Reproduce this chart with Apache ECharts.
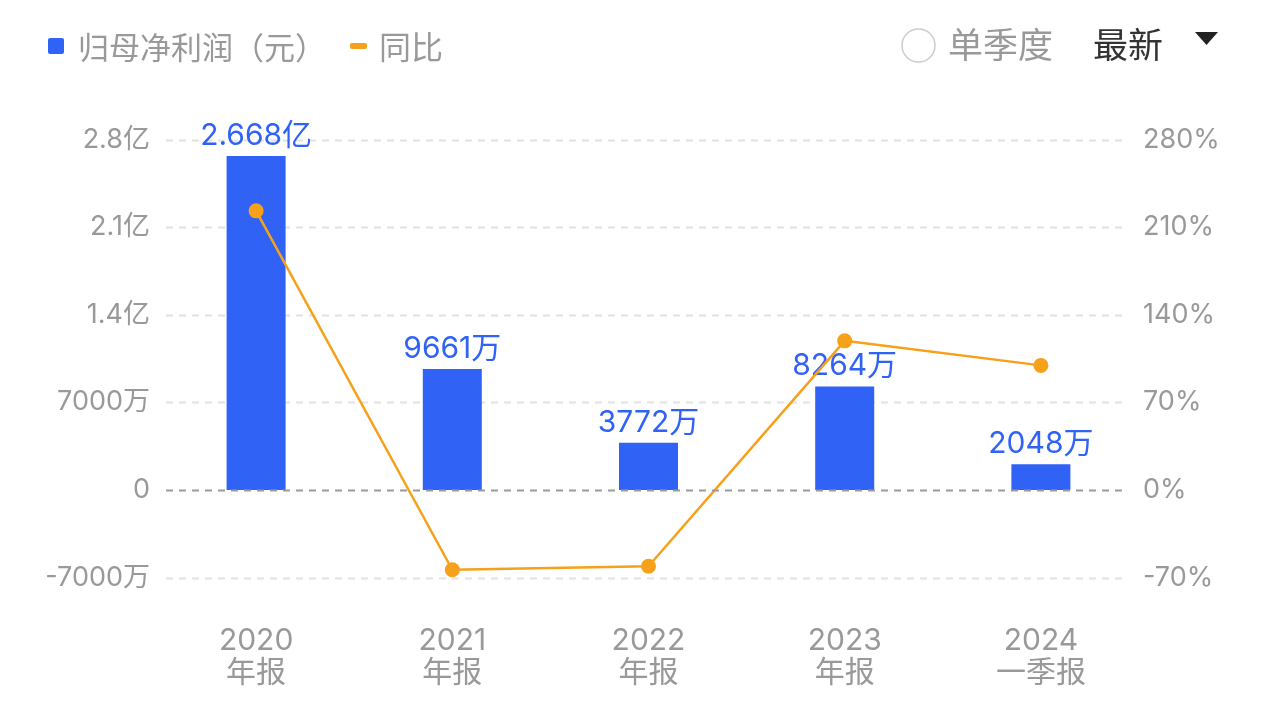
<!DOCTYPE html>
<html><head><meta charset="utf-8">
<script src="https://cdn.jsdelivr.net/npm/echarts@6/dist/echarts.min.js"></script>
<style>html,body{margin:0;padding:0;background:#fff;}#c{width:1267px;height:706px;}</style>
</head><body><div id="c"></div>
<script>
const categories = ['2020\n年报', '2021\n年报', '2022\n年报', '2023\n年报', '2024\n一季报'];
const profitValues = [266800000, 96610000, 37720000, 82640000, 20480000];
const yoyValues = [223.0, -63.8, -61.0, 119.1, 99.5];
const leftTicks = { min: -70000000, max: 280000000, interval: 70000000 };
const rightTicks = { min: -70, max: 280, interval: 70 };

const FONT = 'Inter, "Noto Sans CJK SC", sans-serif';
const CJK = '"Noto Sans CJK SC", sans-serif';
const BLUE = '#3062F5';
const ORANGE = '#F7A01A';

function fmtMoney(v) {
  if (v === 0) return '0';
  if (Math.abs(v) >= 1e8) return (v / 1e8) + '亿';
  return (v / 1e4) + '万';
}
function fmtLabel(v) {
  if (Math.abs(v) >= 1e8) return (v / 1e8).toFixed(3) + '亿';
  return Math.round(v / 1e4) + '万';
}

const chart = echarts.init(document.getElementById('c'));
const legendGraphics = [
  { type: 'rect', shape: { x: 48, y: 38, width: 16, height: 16, r: 2 }, style: { fill: BLUE } },
  { type: 'text', x: 78, y: 47, style: { text: '归母净利润（元）', fill: '#999', font: '31px ' + CJK, verticalAlign: 'middle' } },
  { type: 'rect', shape: { x: 350, y: 43, width: 17, height: 6, r: 2 }, style: { fill: ORANGE } },
  { type: 'text', x: 379, y: 47, style: { text: '同比', fill: '#999', font: '32px ' + CJK, verticalAlign: 'middle' } },
  { type: 'circle', shape: { cx: 918.5, cy: 45.5, r: 16.5 }, style: { fill: '#fff', stroke: '#ccc', lineWidth: 1.5 } },
  { type: 'text', x: 948, y: 45, style: { text: '单季度', fill: '#999', font: '35px ' + CJK, verticalAlign: 'middle' } },
  { type: 'text', x: 1093, y: 45, style: { text: '最新', fill: '#333', font: '35px ' + CJK, verticalAlign: 'middle' } },
  { type: 'polygon', shape: { points: [[1195, 32], [1218, 32], [1206.5, 45]] }, style: { fill: '#222' } }
];

chart.setOption({
  backgroundColor: '#fff',
  animation: false,
  textStyle: { fontFamily: FONT },
  grid: { left: 158, right: 128, top: 139.5, bottom: 706 - 577.5 },
  xAxis: {
    type: 'category',
    data: categories,
    axisLine: { show: false },
    axisTick: { show: false },
    axisLabel: { color: '#999', fontSize: 30, lineHeight: 32, margin: 47, fontFamily: FONT }
  },
  yAxis: [
    {
      type: 'value', min: leftTicks.min, max: leftTicks.max, interval: leftTicks.interval,
      axisLine: { show: false }, axisTick: { show: false },
      axisLabel: { color: '#999', fontSize: 27, margin: 8, formatter: fmtMoney, fontFamily: FONT },
      splitLine: { show: false }
    },
    {
      type: 'value', min: rightTicks.min, max: rightTicks.max, interval: rightTicks.interval,
      axisLine: { show: false }, axisTick: { show: false },
      axisLabel: { color: '#999', fontSize: 27, margin: 4, formatter: '{value}%', fontFamily: FONT },
      splitLine: { show: false }
    }
  ],
  series: [
    {
      type: 'bar', data: profitValues, yAxisIndex: 0, barWidth: 59,
      itemStyle: { color: BLUE },
      label: { show: true, position: 'top', distance: 5, color: BLUE, fontSize: 30, formatter: p => fmtLabel(p.value), fontFamily: FONT }
    },
    {
      type: 'line', data: yoyValues, yAxisIndex: 1, z: 5,
      symbol: 'circle', symbolSize: 15,
      lineStyle: { color: ORANGE, width: 2.5 },
      itemStyle: { color: ORANGE }
    }
  ],
  graphic: legendGraphics
});

// Gridlines at each left-axis tick, positioned through the axis scale
const gridLines = [];
for (let v = leftTicks.min; v <= leftTicks.max; v += leftTicks.interval) {
  const y = Math.round(chart.convertToPixel({ yAxisIndex: 0 }, v)) + 0.5;
  const isZero = v === 0;
  gridLines.push({
    type: 'line', z: isZero ? 10 : -1, silent: true,
    shape: { x1: 166, y1: y, x2: 1122, y2: y },
    style: { stroke: isZero ? '#9a9a9a' : '#e2e2e2', lineWidth: 2, lineDash: [7, 6] }
  });
}
chart.setOption({ graphic: legendGraphics.concat(gridLines) });
</script>
</body></html>
